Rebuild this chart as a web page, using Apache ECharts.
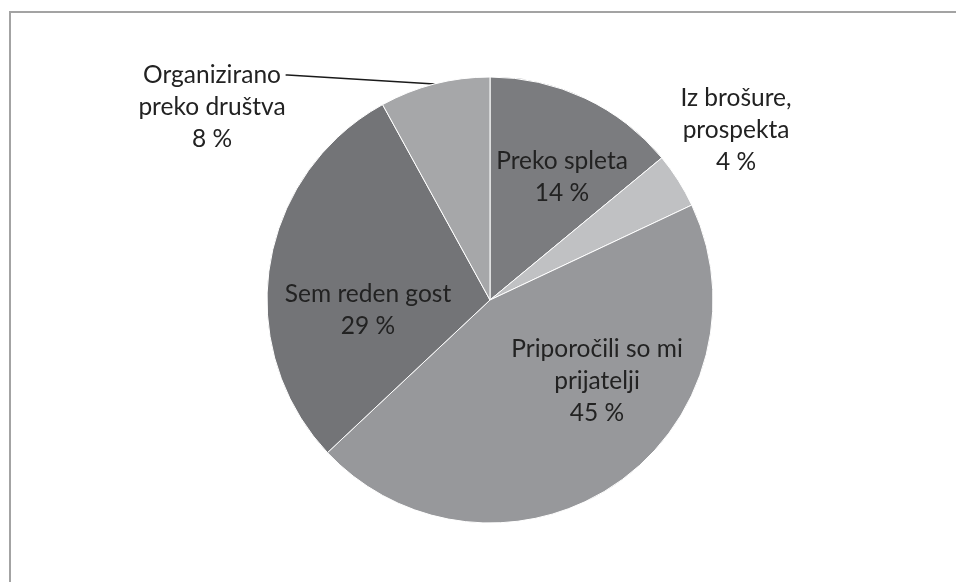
<!DOCTYPE html>
<html>
<head>
<meta charset="utf-8">
<script src="https://cdn.jsdelivr.net/npm/echarts@6/dist/echarts.min.js"></script>
<style>
  html, body { margin: 0; padding: 0; background: #fff; }
  #chart { width: 956px; height: 582px; }
</style>
</head>
<body>
<div id="chart"></div>
<script>
// data
let categories = ['Preko spleta', 'Iz brošure, prospekta', 'Priporočili so mi prijatelji', 'Sem reden gost', 'Organizirano preko društva'];
let labelTexts = ['Preko spleta', 'Iz brošure,\nprospekta', 'Priporočili so mi\nprijatelji', 'Sem reden gost', 'Organizirano\npreko društva'];
let values = [14, 4, 45, 29, 8];
let colors = ['#7b7c7f', '#c0c1c3', '#97989b', '#737477', '#a6a7a9'];

// where each label block sits (centre). The last label gets two empty lines
// on top so the leader line meets its first text line.
let labelCenters = [[562, 177], [736, 130], [597, 381], [368, 310], [212, 75]];

let chart = echarts.init(document.getElementById('chart'));

let pieData = values.map(function (v, i) {
    return {
        value: v,
        name: categories[i],
        itemStyle: { color: colors[i] },
        labelLine: { show: i === 4 }
    };
});

let option = {
    animation: false,
    graphic: [
        {
            type: 'rect',
            shape: { x: 10, y: 12, width: 1200, height: 800 },
            style: { fill: 'none', stroke: '#a3a3a3', lineWidth: 2 },
            silent: true
        }
    ],
    series: [
        {
            type: 'pie',
            center: [490, 300],
            radius: 223,
            startAngle: 90,
            clockwise: true,
            itemStyle: { borderColor: '#ffffff', borderWidth: 1 },
            label: {
                show: true,
                position: 'outside',
                fontFamily: 'Lato',
                fontSize: 24.5,
                lineHeight: 32,
                color: '#222222',
                align: 'center',
                formatter: function (p) {
                    let s = labelTexts[p.dataIndex] + '\n' + p.value + ' %';
                    return p.dataIndex === 4 ? '\n\n' + s : s;
                }
            },
            labelLine: {
                length: 2,
                length2: 2,
                lineStyle: { color: '#1a1a1a', width: 1.5 }
            },
            labelLayout: function (params) {
                let c = labelCenters[params.dataIndex];
                return { x: c[0], y: c[1], align: 'center', verticalAlign: 'middle' };
            },
            data: pieData
        }
    ]
};
chart.setOption(option);
</script>
</body>
</html>
